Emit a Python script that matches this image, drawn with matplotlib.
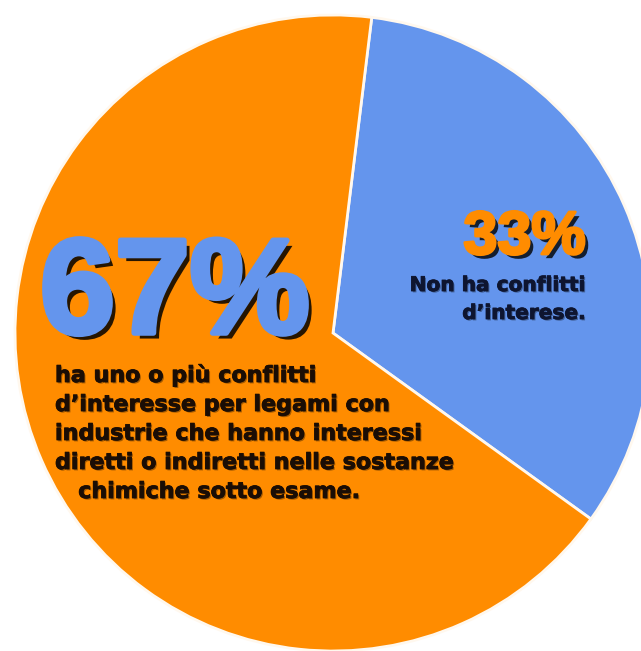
import matplotlib.pyplot as plt
import matplotlib.patheffects as pe

# share of experts with / without conflicts of interest
labels = ["Non ha conflitti d'interese.", "ha uno o più conflitti d'interesse"]
shares = [33, 67]
colors = ["#6495ED", "#FF8C00"]

big_label = "67%"
small_label = "33%"
body_lines = [
    "ha uno o più conflitti",
    "d’interesse per legami con",
    "industrie che hanno interessi",
    "diretti o indiretti nelle sostanze",
    "   chimiche sotto esame.",
]
side_lines = ["Non ha conflitti", "d’interese."]

W, H = 641, 651
dpi = 100
fig = plt.figure(figsize=(W / dpi, H / dpi), dpi=dpi)
ax = fig.add_axes([0, 0, 1, 1])

ax.pie(shares, colors=colors, startangle=83, counterclock=False,
       center=(333, H - 333), radius=318,
       wedgeprops=dict(edgecolor="#fff8ee", linewidth=2))
ax.set_xlim(0, W)
ax.set_ylim(0, H)
ax.set_aspect("equal")
ax.set_axis_off()


def heavy(face, off=3, alpha=0.85, fat=3):
    # fattened glyphs with a dark drop shadow
    return [pe.SimplePatchShadow(offset=(off, -off), shadow_rgbFace="black", alpha=alpha),
            pe.Stroke(linewidth=fat, foreground=face), pe.Normal()]


ax.text(40, H - 333, big_label, family="Liberation Sans", weight="bold", fontsize=97,
        color=colors[0], ha="left", va="baseline", path_effects=heavy(colors[0], 4, 0.85, 4))
ax.text(586, H - 254, small_label, family="Liberation Sans", weight="bold", fontsize=44,
        color=colors[1], ha="right", va="baseline", path_effects=heavy(colors[1], 3, 0.8, 2))

for i, line in enumerate(side_lines):
    ax.text(586, H - 291 - i * 28, line, family="DejaVu Sans", weight="bold", fontsize=14.5,
            color="#0e1530", ha="right", va="baseline",
            path_effects=heavy("#0e1530", 1, 0.35, 0.6))

for i, line in enumerate(body_lines):
    ax.text(55, H - 382 - i * 29, line, family="DejaVu Sans", weight="bold", fontsize=16,
            color="#1a0d05", ha="left", va="baseline",
            path_effects=heavy("#1a0d05", 1, 0.35, 0.6))

fig.savefig("out.png", dpi=dpi)
